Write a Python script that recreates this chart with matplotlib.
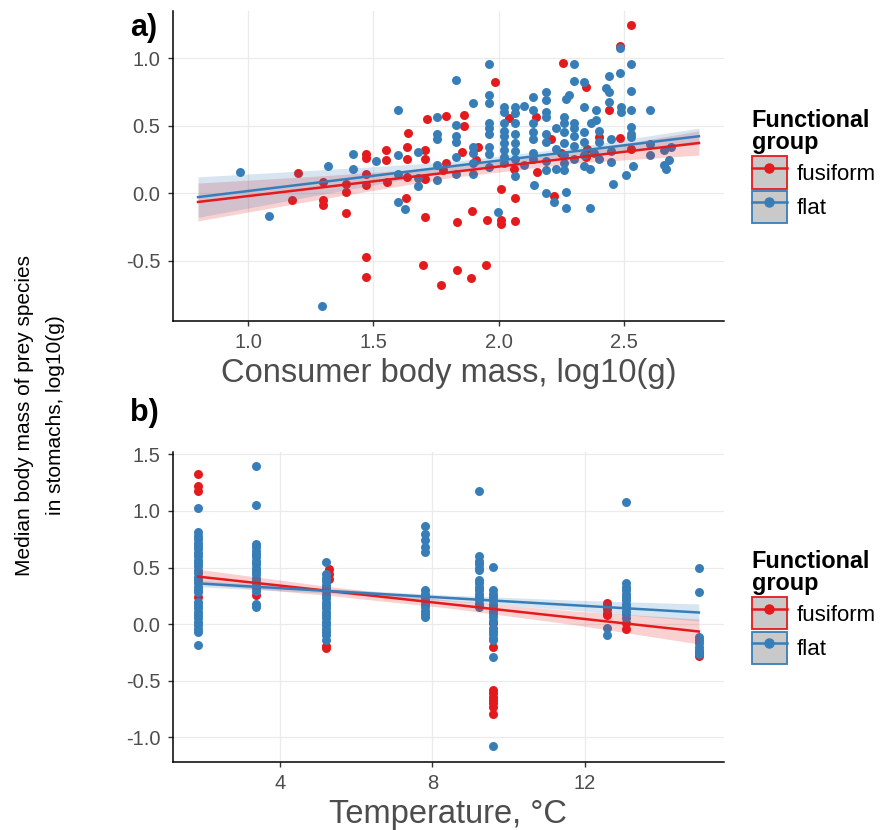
"""
Prey body mass vs consumer body mass (a) and vs temperature (b), two functional groups.
"""

import matplotlib
matplotlib.use("Agg")
import matplotlib.pyplot as plt
import numpy as np
from matplotlib.legend_handler import HandlerTuple
from matplotlib.lines import Line2D
from matplotlib.patches import Patch

plt.rcParams["font.family"] = ["Liberation Sans", "DejaVu Sans"]
plt.rcParams["axes.unicode_minus"] = False

RED = "#E41A1C"
BLUE = "#377EB8"
KEY_FILL = "#C9C9C9"
GROUPS = ["fusiform", "flat"]

# --- panel a: (consumer mass, prey mass), log10(g)
fusiform_a = [
    (1.20, 0.145), (1.176, -0.055), (1.30, 0.08), (1.30, -0.055), (1.30, -0.09),
    (1.389, 0.07), (1.389, 0.007), (1.389, -0.146), (1.47, 0.293), (1.47, 0.26),
    (1.47, 0.144), (1.47, 0.057), (1.47, -0.476), (1.47, -0.62), (1.55, 0.318),
    (1.55, 0.243), (1.556, 0.082), (1.64, 0.446), (1.634, 0.34), (1.634, 0.255),
    (1.634, 0.12), (1.63, -0.037), (1.705, 0.32), (1.705, 0.25), (1.716, 0.546),
    (1.705, 0.107), (1.705, -0.174), (1.70, -0.533), (1.78, 0.169), (1.77, -0.68),
    (1.79, 0.57), (1.79, 0.226), (1.834, -0.214), (1.833, -0.57), (1.86, 0.578),
    (1.86, 0.496), (1.855, 0.305), (1.894, -0.135), (1.89, -0.63), (1.918, 0.34),
    (1.91, 0.243), (1.953, -0.197), (1.95, -0.533), (1.985, 0.826), (2.01, 0.03),
    (2.009, -0.203), (2.009, -0.227), (2.04, 0.553), (2.06, 0.18), (2.064, -0.035),
    (2.065, -0.207), (2.15, 0.566), (2.155, 0.157), (2.208, 0.40), (2.22, -0.02),
    (2.248, 0.30), (2.258, 0.963), (2.35, 0.784), (2.353, 0.326), (2.35, 0.27),
    (2.40, 0.417), (2.44, 0.615), (2.485, 1.09), (2.485, 0.41), (2.527, 1.248),
    (2.527, 0.33),
]

flat_a = [
    (0.967, 0.156), (1.085, -0.171), (1.294, -0.84), (1.32, 0.20), (1.42, 0.293),
    (1.42, 0.181), (1.51, 0.236), (1.60, 0.615), (1.60, 0.28), (1.60, 0.144),
    (1.60, -0.067), (1.627, -0.117), (1.68, 0.305), (1.68, 0.05), (1.68, 0.11),
    (1.756, 0.566), (1.756, 0.44), (1.756, 0.404), (1.756, 0.094), (1.756, 0.21),
    (1.83, 0.838), (1.83, 0.504), (1.83, 0.38), (1.83, 0.42), (1.83, 0.268),
    (1.83, 0.144), (1.896, 0.665), (1.896, 0.342), (1.896, 0.144), (1.896, 0.30),
    (1.896, 0.22), (1.96, 0.955), (1.96, 0.727), (1.96, 0.665), (1.96, 0.516),
    (1.96, 0.48), (1.96, 0.44), (1.96, 0.34), (1.96, 0.293), (1.96, 0.194),
    (1.996, -0.141), (2.02, 0.64), (2.02, 0.60), (2.02, 0.52), (2.02, 0.46),
    (2.02, 0.42), (2.02, 0.37), (2.02, 0.32), (2.02, 0.27), (2.02, 0.22),
    (2.067, 0.64), (2.067, 0.59), (2.067, 0.52), (2.067, 0.44), (2.067, 0.37),
    (2.067, 0.31), (2.067, 0.25), (2.067, 0.13), (2.10, 0.645), (2.10, 0.21),
    (2.137, 0.715), (2.137, 0.615), (2.137, 0.52), (2.137, 0.45), (2.137, 0.40),
    (2.137, 0.30), (2.14, 0.062), (2.137, 0.25), (2.19, 0.75), (2.19, 0.69),
    (2.19, 0.0), (2.19, 0.60), (2.19, 0.56), (2.19, 0.44), (2.19, 0.38),
    (2.19, 0.24), (2.19, 0.17), (2.22, -0.067), (2.23, 0.181), (2.23, 0.33),
    (2.23, 0.48), (2.26, 0.56), (2.26, 0.52), (2.26, 0.45), (2.26, 0.37),
    (2.26, 0.28), (2.26, 0.22), (2.26, 0.17), (2.268, 0.007), (2.268, -0.109),
    (2.27, 0.70), (2.28, 0.727), (2.30, 0.96), (2.30, 0.834), (2.30, 0.52),
    (2.30, 0.48), (2.30, 0.42), (2.30, 0.35), (2.30, 0.25), (2.343, 0.826),
    (2.343, 0.64), (2.34, 0.45), (2.34, 0.38), (2.34, 0.28), (2.34, 0.20),
    (2.366, 0.181), (2.366, -0.112), (2.37, 0.52), (2.38, 0.30), (2.39, 0.615),
    (2.39, 0.54), (2.40, 0.46), (2.40, 0.38), (2.40, 0.25), (2.43, 0.777),
    (2.44, 0.864), (2.44, 0.677), (2.44, 0.75), (2.45, 0.40), (2.45, 0.31),
    (2.455, 0.065), (2.45, 0.23), (2.485, 1.074), (2.485, 0.89), (2.49, 0.64),
    (2.49, 0.60), (2.51, 0.136), (2.528, 0.955), (2.528, 0.757), (2.528, 0.615),
    (2.528, 0.49), (2.528, 0.44), (2.528, 0.417), (2.535, 0.2), (2.605, 0.615),
    (2.605, 0.28), (2.605, 0.367), (2.66, 0.318), (2.66, 0.206), (2.68, 0.243),
    (2.69, 0.34), (2.67, 0.18),
]

# linear fits: ends of the line, CI half-width along it
fit_a_x = [0.8, 2.8]
fit_a_fusiform = [-0.066, 0.371]
fit_a_flat = [-0.030, 0.421]
band_a_x = [0.8, 1.3, 1.8, 2.3, 2.8]
band_a_fusiform = [0.14, 0.085, 0.04, 0.04, 0.09]
band_a_flat = [0.15, 0.09, 0.035, 0.03, 0.06]

# --- panel b: temperature (degC) -> prey masses, log10(g)
fusiform_b = {
    1.85: [1.325, 1.22, 1.18, 0.24],
    3.37: [0.256],
    5.28: [0.49, 0.44, 0.40],
    5.20: [-0.19, -0.215],
    9.60: [0.006, -0.20, -0.58, -0.61, -0.64, -0.67, -0.70, -0.73, -0.79],
    12.60: [0.19, 0.16, 0.13, 0.10, 0.08],
    13.10: [0.006, -0.047],
    15.00: [-0.283, -0.25],
}

flat_b = {
    1.85: [1.022, 0.81, 0.78, 0.75, 0.72, 0.69, 0.66, 0.63, 0.60, 0.57, 0.54,
           0.51, 0.48, 0.45, 0.42, 0.39, 0.36, 0.33, 0.30, 0.28, 0.20, 0.17,
           0.14, 0.11, 0.08, 0.05, 0.02, -0.01, -0.04, -0.07, -0.185],
    3.37: [1.40, 1.05, 0.71, 0.68, 0.65, 0.62, 0.59, 0.56, 0.53, 0.50, 0.47,
           0.44, 0.41, 0.38, 0.35, 0.32, 0.29, 0.18, 0.15],
    5.20: [0.55, 0.44, 0.41, 0.38, 0.35, 0.32, 0.29, 0.26, 0.23, 0.20, 0.17,
           0.14, 0.11, 0.08, 0.05, 0.02, -0.01, -0.04, -0.07, -0.10, -0.14],
    7.82: [0.866, 0.80, 0.742, 0.683, 0.64, 0.30, 0.27, 0.24, 0.21, 0.18,
           0.15, 0.12, 0.09, 0.064],
    9.22: [1.175, 0.60, 0.56, 0.53, 0.50, 0.48, 0.39, 0.36, 0.33, 0.30, 0.27,
           0.24, 0.21, 0.18, 0.153],
    9.60: [0.506, 0.30, 0.27, 0.24, 0.21, 0.18, 0.15, 0.12, 0.09, 0.06, 0.03,
           -0.03, -0.06, -0.09, -0.12, -0.14, -0.289, -1.077],
    12.60: [-0.038, -0.097],
    13.10: [1.08, 0.36, 0.33, 0.30, 0.27, 0.24, 0.21, 0.18, 0.15, 0.12, 0.09, 0.05],
    15.00: [0.50, 0.285, -0.112, -0.14, -0.17, -0.20, -0.23, -0.26],
}

fit_b_x = [1.85, 15.0]
fit_b_fusiform = [0.42, -0.065]
fit_b_flat = [0.36, 0.103]
band_b_x = [1.85, 5.14, 8.43, 11.71, 15.0]
band_b_fusiform = [0.065, 0.04, 0.035, 0.06, 0.11]
band_b_flat = [0.03, 0.02, 0.025, 0.045, 0.075]


def expand(groups):
    xs, ys = [], []
    for x, vals in groups.items():
        xs += [x] * len(vals)
        ys += vals
    return xs, ys


def draw_panel(ax, fus, flat, fit_x, fits, band_x, bands):
    ax.scatter(*zip(*fus), s=42, color=RED, linewidths=0, zorder=2)
    ax.scatter(*zip(*flat), s=42, color=BLUE, linewidths=0, zorder=2)
    for col, line, hw in zip((RED, BLUE), fits, bands):
        centre = np.interp(band_x, fit_x, line)
        hw = np.array(hw)
        ax.fill_between(band_x, centre - hw, centre + hw, color=col, alpha=0.2,
                        linewidth=0, zorder=3)
        ax.plot(fit_x, line, color=col, lw=1.8, zorder=4)

    ax.grid(True, color="#EBEBEB", lw=0.9)
    ax.set_axisbelow(True)
    for side in ("top", "right"):
        ax.spines[side].set_visible(False)
    for side in ("left", "bottom"):
        ax.spines[side].set_linewidth(1.1)
    ax.tick_params(length=3.5, width=1, color="#333333", labelsize=14.5,
                   labelcolor="#4D4D4D", pad=5.5)

    handles = [
        (Patch(facecolor=KEY_FILL, edgecolor=col, lw=1.3),
         Line2D([], [], color=col, lw=1.8, marker="o", ms=6.5))
        for col in (RED, BLUE)
    ]
    leg = ax.legend(handles, GROUPS, title="Functional\ngroup", loc="center left",
                    bbox_to_anchor=(1.05, 0.5), frameon=False, fontsize=16,
                    title_fontsize=16.8, handler_map={tuple: HandlerTuple(ndivide=1)},
                    handlelength=1.6, handleheight=1.85, labelspacing=0.1,
                    handletextpad=0.45, borderpad=0, borderaxespad=0,
                    alignment="left")
    leg.get_title().set_fontweight("bold")
    leg.get_title().set_linespacing(0.95)


fig = plt.figure(figsize=(8.83, 8.30), dpi=100)
ax_a = fig.add_axes([0.1959, 0.6136, 0.624, 0.3728])
ax_b = fig.add_axes([0.1959, 0.0823, 0.624, 0.373])

draw_panel(ax_a, fusiform_a, flat_a, fit_a_x, (fit_a_fusiform, fit_a_flat),
           band_a_x, (band_a_fusiform, band_a_flat))
ax_a.set_xlim(0.7, 2.9)
ax_a.set_ylim(-0.946, 1.347)
ax_a.set_xticks([1.0, 1.5, 2.0, 2.5], ["1.0", "1.5", "2.0", "2.5"])
ax_a.set_yticks([-0.5, 0.0, 0.5, 1.0], ["-0.5", "0.0", "0.5", "1.0"])
ax_a.set_xlabel("Consumer body mass, log10(g)", fontsize=23.5, color="#4D4D4D",
                labelpad=4)

fus_t, fus_m = expand(fusiform_b)
flat_t, flat_m = expand(flat_b)
draw_panel(ax_b, list(zip(fus_t, fus_m)), list(zip(flat_t, flat_m)), fit_b_x,
           (fit_b_fusiform, fit_b_flat), band_b_x, (band_b_fusiform, band_b_flat))
ax_b.set_xlim(1.19, 15.66)
ax_b.set_ylim(-1.215, 1.52)
ax_b.set_xticks([4, 8, 12])
ax_b.set_yticks([-1.0, -0.5, 0.0, 0.5, 1.0, 1.5],
                ["-1.0", "-0.5", "0.0", "0.5", "1.0", "1.5"])
ax_b.set_xlabel("Temperature, °C", fontsize=23.5, color="#4D4D4D", labelpad=4)

fig.text(130 / 883, 1 - 28 / 830, "a)", fontsize=22, fontweight="bold", va="center")
fig.text(130 / 883, 1 - 413 / 830, "b)", fontsize=22, fontweight="bold", va="center")
fig.text(40 / 883, 1 - 415 / 830,
         "Median body mass of prey species\nin stomachs, log10(g)",
         fontsize=15, rotation=90, ha="center", va="center", multialignment="center",
         linespacing=1.75)

fig.savefig("out.png", dpi=100)
